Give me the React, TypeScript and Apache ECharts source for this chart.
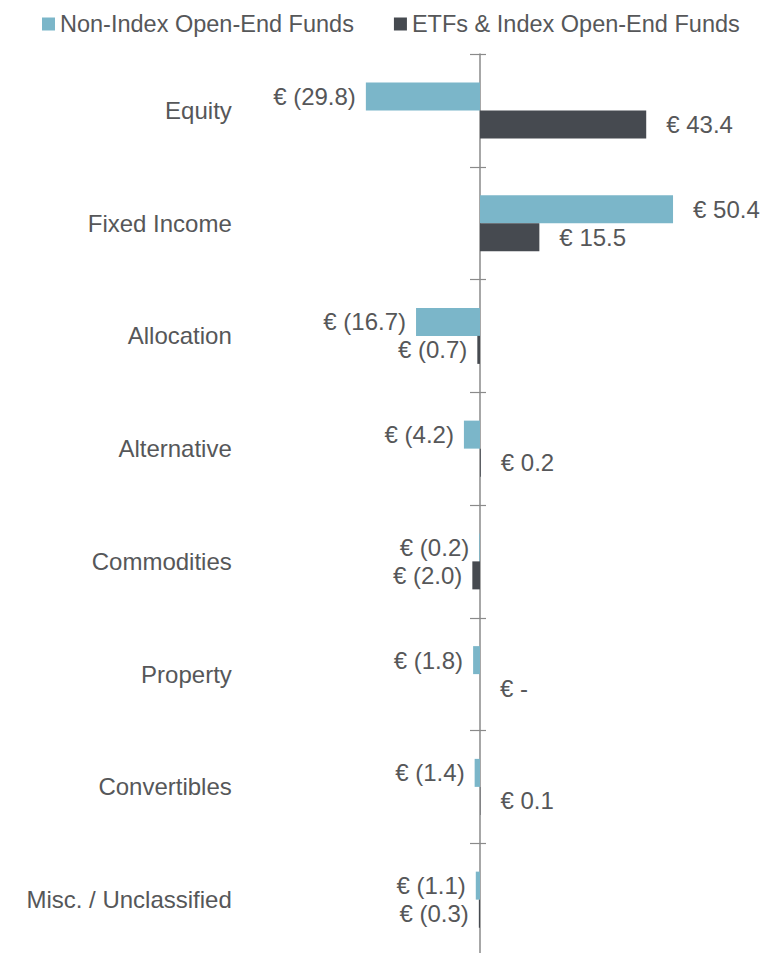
import React, { useEffect, useRef } from "react";
import * as echarts from "echarts";

const categories = [
  "Equity",
  "Fixed Income",
  "Allocation",
  "Alternative",
  "Commodities",
  "Property",
  "Convertibles",
  "Misc. / Unclassified",
];
const seriesNames = ["Non-Index Open-End Funds", "ETFs & Index Open-End Funds"];
const nonIndexValues = [-29.8, 50.4, -16.7, -4.2, -0.2, -1.8, -1.4, -1.1];
const etfValues = [43.4, 15.5, -0.7, 0.2, -2.0, 0, 0.1, -0.3];

const TEXT = "#565759";
const FONT = "'Liberation Sans', Arial, sans-serif";

function fmt(v: number): string {
  if (v === 0) return "€ -";
  if (v < 0) return "€ (" + Math.abs(v).toFixed(1) + ")";
  return "€ " + v.toFixed(1);
}

function toData(vals: number[]) {
  return vals.map((v) => ({
    value: v,
    label: {
      position: v < 0 ? "left" : "right",
      distance: v < 0 ? 10 : 20,
    },
  }));
}

export default function App() {
  const ref = useRef<HTMLDivElement>(null);
  useEffect(() => {
    if (!ref.current) return;
    const chart = echarts.init(ref.current, undefined, { renderer: "svg" });
    const labelCommon = {
      show: true,
      color: TEXT,
      fontSize: 24,
      fontFamily: FONT,
      formatter: (p: any) => fmt(p.value),
    };
    chart.setOption({
      animation: false,
      backgroundColor: "#ffffff",
      legend: {
        left: 42,
        top: 12,
        padding: 0,
        itemWidth: 13,
        itemHeight: 13,
        itemGap: 40,
        icon: "rect",
        textStyle: { color: TEXT, fontSize: 23.5, fontFamily: FONT },
        data: seriesNames,
      },
      grid: {
        left: 326.8,
        width: 383,
        top: 54,
        height: 902,
        containLabel: false,
        outerBoundsMode: "none",
      },
      xAxis: {
        type: "value",
        min: -40,
        max: 60,
        show: false,
        splitLine: { show: false },
      },
      yAxis: [
        {
          type: "category",
          inverse: true,
          data: categories,
          position: "left",
          axisLine: { show: true, onZero: true, lineStyle: { color: "#8a8a8a", width: 1.5 } },
          axisTick: { show: true, inside: false, length: 10, lineStyle: { color: "#8a8a8a", width: 1.2 } },
          axisLabel: {
            margin: 95,
            color: TEXT,
            fontSize: 24,
            fontFamily: FONT,
          },
        },
        {
          type: "category",
          inverse: true,
          data: categories,
          position: "right",
          axisLine: { show: false, onZero: true, onZeroAxisIndex: 0 },
          axisTick: { show: true, inside: false, length: 6, lineStyle: { color: "#8a8a8a", width: 1.2 } },
          axisLabel: { show: false },
        },
      ],
      series: [
        {
          name: seriesNames[0],
          type: "bar",
          barWidth: 28,
          barGap: "0%",
          itemStyle: { color: "#7bb6c9" },
          label: labelCommon,
          data: toData(nonIndexValues),
        },
        {
          name: seriesNames[1],
          type: "bar",
          barWidth: 28,
          barGap: "0%",
          itemStyle: { color: "#464a50" },
          label: labelCommon,
          data: toData(etfValues),
        },
      ],
    });
    return () => chart.dispose();
  }, []);
  return (
    <div
      ref={ref}
      style={{ position: "fixed", left: 0, top: 0, width: 761, height: 953, background: "#fff" }}
    />
  );
}
